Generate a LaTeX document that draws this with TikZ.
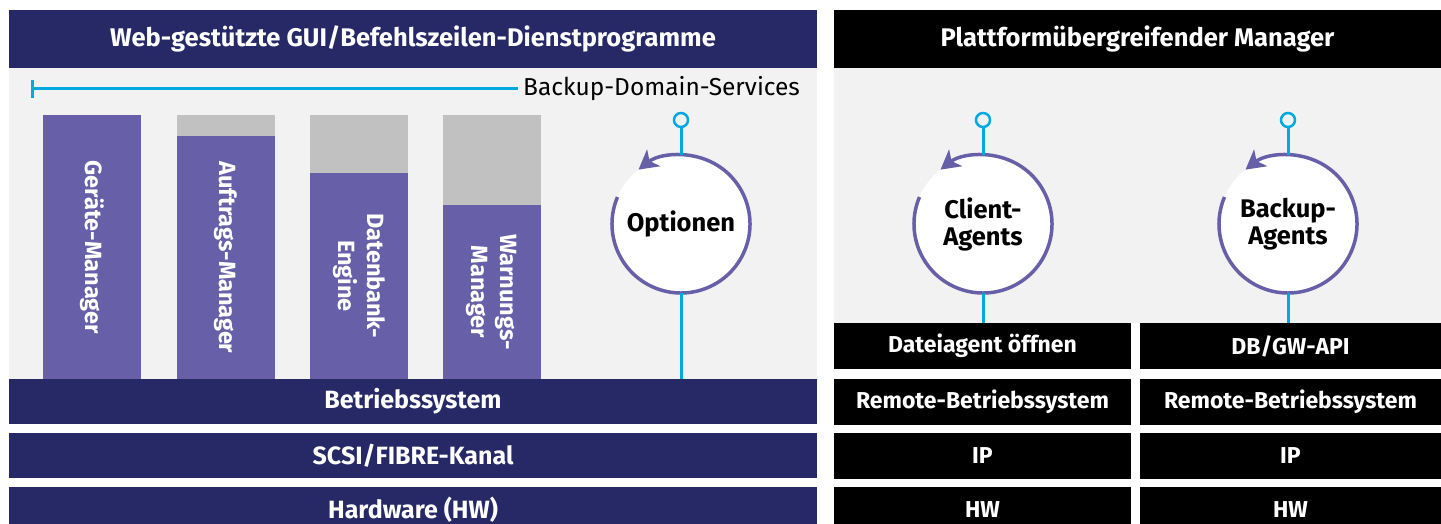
\documentclass[tikz,border=0pt]{standalone}
\usepackage{fontspec}
\setmainfont{Fira Sans}
\usepackage{tikz}
\usetikzlibrary{arrows.meta}
\definecolor{navy}{RGB}{38,41,102}
\definecolor{lila}{RGB}{103,95,168}
\definecolor{hellgrau}{RGB}{242,242,242}
\definecolor{balkengrau}{RGB}{193,193,193}
\definecolor{blau}{RGB}{0,169,224}

\begin{document}
\begin{tikzpicture}[x=1pt,y=1pt,yscale=-1,xscale=1,
  layer/.style={fill=navy, text=white, font=\bfseries\fontsize{25}{28}\selectfont, inner sep=0pt, outer sep=0pt, minimum height=45},
  blackbox/.style={fill=black, text=white, font=\bfseries\fontsize{23}{26}\selectfont, inner sep=0pt, outer sep=0pt, minimum height=46},
  bar/.style={fill=lila, text=white, font=\bfseries\fontsize{23.5}{29}\selectfont, align=center, inner sep=0pt, outer sep=0pt, minimum height=98, rotate=-90},
  agent/.style={circle, fill=white, inner sep=0pt, outer sep=0pt, minimum size=138, align=center, font=\bfseries\fontsize{25.5}{27}\selectfont},
  ring/.style={draw=lila, line width=3.5, -{Stealth[length=19pt,width=21pt,inset=5pt]}},
  port/.style={circle, draw=blau, line width=2.5, fill=hellgrau, inner sep=0pt, outer sep=0pt, minimum size=14},
  wire/.style={draw=blau, line width=3}]
\useasboundingbox (0,0) rectangle (1441,524);

%Shape: Rectangle (panels)
\fill[hellgrau] (9,68) rectangle (817,379);
\fill[hellgrau] (834,68) rectangle (1441,323);

% Title bars
\node[layer, minimum width=808, minimum height=58, font=\bfseries\fontsize{25.5}{28}\selectfont] (gui) at (413,39) {Web-gestützte GUI/Befehlszeilen-Dienstprogramme};
\node[blackbox, minimum width=607, minimum height=58, font=\bfseries\fontsize{25.5}{28}\selectfont] (xpm) at (1137.5,39) {Plattformübergreifender Manager};

% Layers left
\node[layer, minimum width=808] (os) at (413,401.5) {Betriebssystem};
\node[layer, minimum width=808] (scsi) at (413,455.5) {SCSI/FIBRE-Kanal};
\node[layer, minimum width=808] (hw) at (413,509.5) {Hardware (HW)};

% Layers right
\node[blackbox, minimum width=297] (dat) at (982.5,346) {Dateiagent öffnen};
\node[blackbox, minimum width=297] (rbsa) at (982.5,401.5) {Remote-Betriebssystem};
\node[blackbox, minimum width=297] (ipa) at (982.5,455.5) {IP};
\node[blackbox, minimum width=297] (hwa) at (982.5,509.5) {HW};
\node[blackbox, minimum width=301] (api) at (1290.5,346) {DB/GW-API};
\node[blackbox, minimum width=301] (rbsb) at (1290.5,401.5) {Remote-Betriebssystem};
\node[blackbox, minimum width=301] (ipb) at (1290.5,455.5) {IP};
\node[blackbox, minimum width=301] (hwb) at (1290.5,509.5) {HW};

%Straight Lines (Backup-Domain-Services)
\coordinate (bdsl) at (32,89);
\node[anchor=west, inner sep=5pt, font=\fontsize{24.5}{27}\selectfont] (bds) at (518,89) {Backup-Domain-Services};
\draw[wire] (bdsl) -- (bds.west);
\draw[wire] ([yshift=-9]bdsl) -- ([yshift=9]bdsl);

%Shape: Bars
\fill[balkengrau] (43,115) rectangle (141,379);
\fill[balkengrau] (177,115) rectangle (275,379);
\fill[balkengrau] (310,115) rectangle (408,379);
\fill[balkengrau] (443,115) rectangle (541,379);
\node[bar, minimum width=264] (geraete) at (92,247) {Geräte-Manager};
\node[bar, minimum width=243] (auftrag) at (226,257.5) {Auftrags-Manager};
\node[bar, minimum width=206] (db) at (359,276) {Datenbank-\\Engine};
\node[bar, minimum width=174] (warn) at (492,292) {Warnungs-\\Manager};

%Circles
\node[port] (popt) at (681,120) {};
\node[port] (pcli) at (983,120) {};
\node[port] (pbak) at (1288,120) {};
\node[agent] (opt) at (681,224) {Optionen};
\node[agent] (cli) at (983,224) {Client-\\Agents};
\node[agent] (bak) at (1288,224) {Backup-\\Agents};
\draw[ring] ([shift={(-157:69)}]opt.center) arc[start angle=-157, end angle=-488, radius=69];
\draw[ring] ([shift={(-157:69)}]cli.center) arc[start angle=-157, end angle=-488, radius=69];
\draw[ring] ([shift={(-157:69)}]bak.center) arc[start angle=-157, end angle=-488, radius=69];

%Connectors
\draw[wire] (popt) -- (opt);
\draw[wire] (pcli) -- (cli);
\draw[wire] (pbak) -- (bak);
\draw[wire] (opt) -- (opt |- os.north);
\draw[wire] (cli) -- (cli |- dat.north);
\draw[wire] (bak) -- (bak |- api.north);

\end{tikzpicture}
\end{document}
